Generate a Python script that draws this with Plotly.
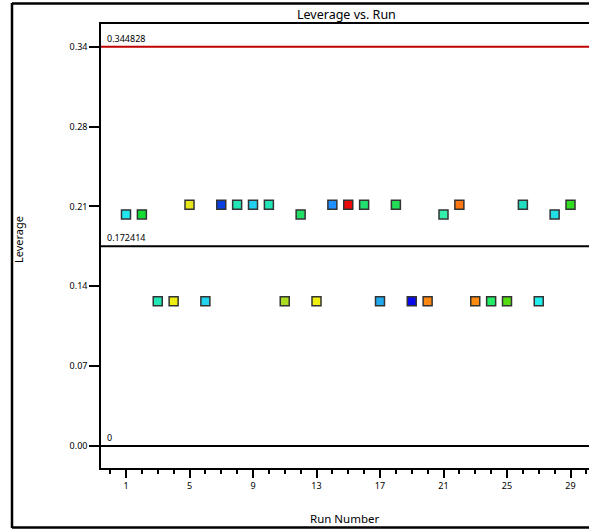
import plotly.graph_objects as go

runs = list(range(1, 30))
leverage = [0.2000, 0.2000, 0.1250, 0.1250, 0.2083, 0.1250, 0.2083, 0.2083, 0.2083, 0.2083,
            0.1250, 0.2000, 0.1250, 0.2083, 0.2083, 0.2083, 0.1250, 0.2083, 0.1250, 0.1250,
            0.2000, 0.2083, 0.1250, 0.1250, 0.1250, 0.2083, 0.1250, 0.2000, 0.2083]
point_colors = ["#22e8f0", "#11dd33", "#22e8b8", "#eeee11", "#e6e61a", "#22d4f0", "#0a3ee0", "#22e6b8",
                "#22d0f0", "#22e6b8", "#aadd22", "#22dd66", "#eeee11", "#1e90ff", "#ee0a0a", "#22e070",
                "#22aaee", "#22dd55", "#0a0aee", "#ff8811", "#33eeaa", "#ff7711", "#ff8c11", "#22ee66",
                "#55dd11", "#22ddc0", "#22eeee", "#22e0e8", "#33dd22"]
ref_values = [0.344828, 0.172414, 0.0]
ref_labels = ["0.344828", "0.172414", "0"]
ref_colors = ["#c00000", "#000000", "#000000"]
y_tickvals = [0.0, 0.0689656, 0.1379312, 0.2068968, 0.2758624, 0.344828]
y_ticktext = ["0.00", "0.07", "0.14", "0.21", "0.28", "0.34"]
x_tickvals = [1, 5, 9, 13, 17, 21, 25, 29]

W, H = 597, 531
L, R, T, B = 101, 0, 24, 63
pw, ph = W - L - R, H - T - B

def px_x(p):
    return (p - L) / pw

def px_y(p):
    return (H - B - p) / ph

font_fam = "Noto Sans, Open Sans, DejaVu Sans, sans-serif"

fig = go.Figure()
fig.add_trace(go.Scatter(
    x=runs, y=leverage, mode="markers",
    marker=dict(symbol="square", size=9, color=point_colors,
                line=dict(color="#333333", width=1.5)),
    showlegend=False, hoverinfo="x+y"))

shapes = []
annotations = []
for v, lab, c in zip(ref_values, ref_labels, ref_colors):
    shapes.append(dict(type="line", xref="paper", yref="y", x0=0, x1=1, y0=v, y1=v,
                       line=dict(color=c, width=2), layer="below"))
    annotations.append(dict(xref="paper", yref="y", x=px_x(105), y=v, text=lab, showarrow=False,
                            xanchor="left", yanchor="bottom", yshift=0,
                            font=dict(size=9, color="#000", family=font_fam)))

shapes += [
    dict(type="line", xref="paper", yref="paper", x0=px_x(12), x1=px_x(12), y0=px_y(3), y1=px_y(528),
         line=dict(color="#000", width=2.5)),
    dict(type="line", xref="paper", yref="paper", x0=px_x(12), x1=1, y0=px_y(3.5), y1=px_y(3.5),
         line=dict(color="#000", width=2.5)),
    dict(type="line", xref="paper", yref="paper", x0=px_x(12), x1=1, y0=px_y(527.5), y1=px_y(527.5),
         line=dict(color="#000", width=2.5)),
]

annotations += [
    dict(xref="paper", yref="paper", x=px_x(346), y=px_y(14), text="Leverage vs. Run", showarrow=False,
         xanchor="center", yanchor="middle", font=dict(size=12.5, color="#000", family=font_fam)),
    dict(xref="paper", yref="paper", x=px_x(345), y=px_y(518), text="Run Number", showarrow=False,
         xanchor="center", yanchor="middle", font=dict(size=11.5, color="#000", family=font_fam)),
    dict(xref="paper", yref="paper", x=px_x(18), y=px_y(240), text="Leverage", showarrow=False,
         textangle=-90, xanchor="center", yanchor="middle", font=dict(size=11, color="#000", family=font_fam)),
]

run_px = 15.875
x_lo = 1 - (126 - L) / run_px
x_hi = 1 + (L + pw - 126) / run_px

fig.update_layout(
    width=W, height=H,
    margin=dict(l=L, r=R, t=T, b=B, pad=0),
    paper_bgcolor="white", plot_bgcolor="white",
    shapes=shapes, annotations=annotations,
    xaxis=dict(range=[x_lo, x_hi], showgrid=False, zeroline=False,
               showline=True, linecolor="#000", linewidth=1.5, mirror=True,
               tickmode="array", tickvals=x_tickvals, ticks="outside", ticklen=8, tickwidth=2,
               tickcolor="#000",
               minor=dict(tickmode="linear", tick0=1, dtick=1, ticks="outside", ticklen=4,
                          tickwidth=2, tickcolor="#000", showgrid=False),
               tickfont=dict(size=9, color="#000", family=font_fam)),
    yaxis=dict(range=[-0.019, 0.3644], showgrid=False, zeroline=False,
               showline=True, linecolor="#000", linewidth=1.5,
               tickmode="array", tickvals=y_tickvals, ticktext=y_ticktext,
               ticks="outside", ticklen=10, tickwidth=1.5, tickcolor="#000",
               tickfont=dict(size=9, color="#000", family=font_fam)),
)

fig.write_html("out.html", config={"displayModeBar": False},
               post_script="document.body.style.margin='0px';document.body.style.overflow='hidden';"
                           "document.documentElement.style.overflow='hidden';")
